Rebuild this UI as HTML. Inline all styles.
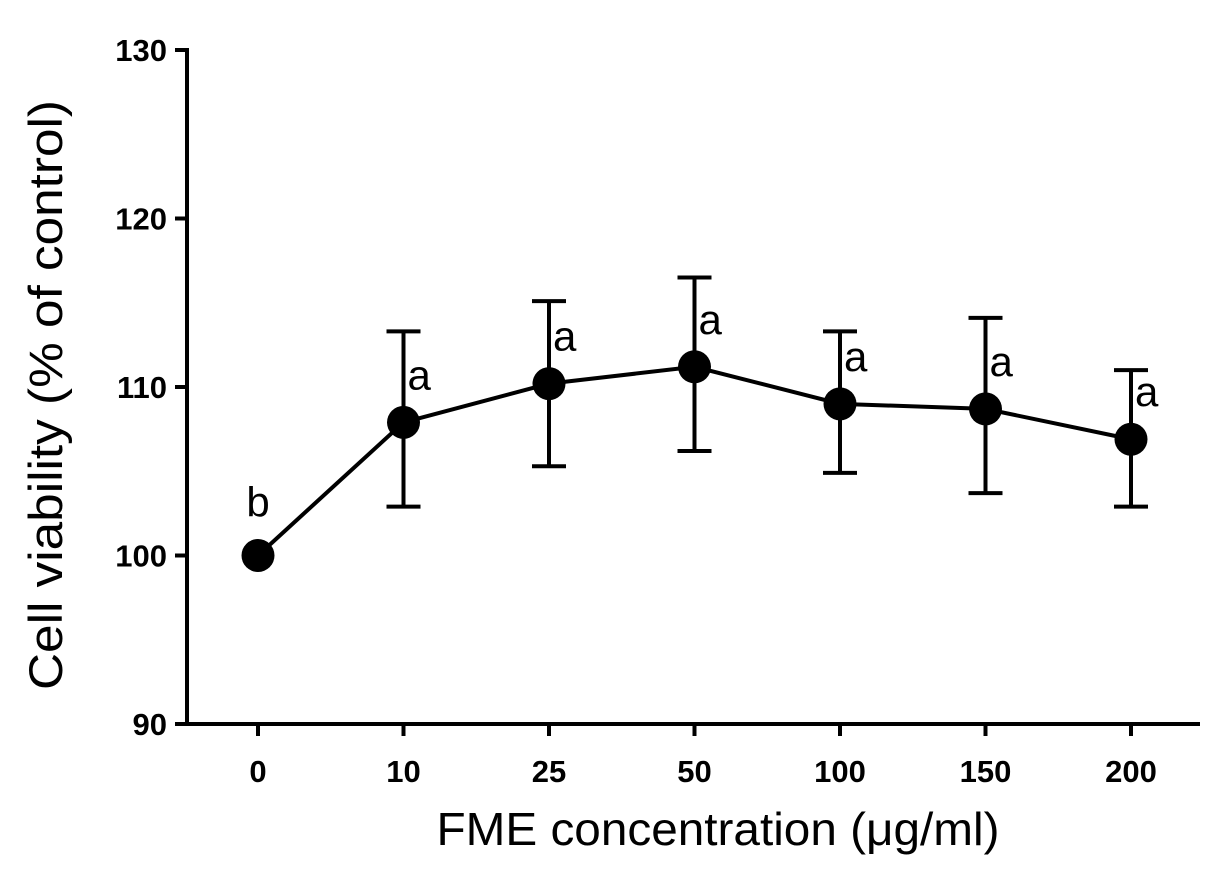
<!DOCTYPE html>
<html><head><meta charset="utf-8"><style>
html,body{margin:0;padding:0;background:#fff}
svg{display:block;font-family:"Liberation Sans",Arial,sans-serif}
</style></head><body>
<svg id="chart" width="1228" height="883" viewBox="0 0 1228 883" xmlns="http://www.w3.org/2000/svg">
<g id="axes"></g><g id="series"></g>
<text transform="translate(62,395) rotate(-90)" text-anchor="middle" font-size="47" textLength="590" lengthAdjust="spacingAndGlyphs" fill="#000">Cell viability (% of control)</text>
<text x="718" y="845" text-anchor="middle" font-size="46" textLength="563" lengthAdjust="spacingAndGlyphs" fill="#000">FME concentration (μg/ml)</text>
</svg>
<script>
const categories = ["0","10","25","50","100","150","200"];
const means = [100, 107.9, 110.2, 111.2, 109.0, 108.7, 106.9];
const errUpper = [100, 113.3, 115.1, 116.5, 113.3, 114.1, 111.0];
const errLower = [100, 102.9, 105.3, 106.2, 104.9, 103.7, 102.9];
const sigLetters = ["b","a","a","a","a","a","a"];
const yTicks = [90, 100, 110, 120, 130];

const NS = "http://www.w3.org/2000/svg";
const yMin = 90, yMax = 130, yTop = 50, yBot = 724;
const xLeft = 187, xRight = 1200, x0 = 258, xStep = 145.5;
function ys(v){ return yBot - (v - yMin) / (yMax - yMin) * (yBot - yTop); }
function xs(i){ return x0 + i * xStep; }
function mk(tag, attrs, parent){ const e = document.createElementNS(NS, tag); for (const k in attrs) e.setAttribute(k, attrs[k]); parent.appendChild(e); return e; }
const axes = document.getElementById('axes'), series = document.getElementById('series');

let yl = mk('line', {x1:xLeft, y1:yTop-2, x2:xLeft, y2:yBot+2, stroke:'#000','stroke-width':4}, axes);


let xl = mk('line', {x1:xLeft-2, y1:yBot, x2:xRight, y2:yBot, stroke:'#000','stroke-width':4}, axes);



yTicks.forEach(t => {
  const y = ys(t);
  const tk = mk('line', {x1:xLeft-12, y1:y, x2:xLeft, y2:y, stroke:'#000','stroke-width':4}, axes);
  
  
  const tx = mk('text', {x:xLeft-20, y:y+11, 'text-anchor':'end','font-size':31,'font-weight':'bold'}, axes);
  tx.textContent = t;
  
  
});
categories.forEach((c, i) => {
  const x = xs(i);
  const tk = mk('line', {x1:x, y1:yBot, x2:x, y2:yBot+12, stroke:'#000','stroke-width':4}, axes);
  
  
  const tx = mk('text', {x:x, y:782, 'text-anchor':'middle','font-size':31,'font-weight':'bold'}, axes);
  tx.textContent = c;
  
  
});

const pts = means.map((m, i) => xs(i) + ',' + ys(m)).join(' ');
const line = mk('polyline', {points:pts, fill:'none', stroke:'#000','stroke-width':4}, series);



means.forEach((m, i) => {
  const x = xs(i);
  if (errUpper[i] !== errLower[i]) {
    const eb = mk('path', {d:`M${x-17},${ys(errUpper[i])}H${x+17}M${x},${ys(errUpper[i])}V${ys(errLower[i])}M${x-17},${ys(errLower[i])}H${x+17}`, stroke:'#000','stroke-width':4, fill:'none'}, series);
    
    
  }
  const p = mk('circle', {cx:x, cy:ys(m), r:16.5, fill:'#000'}, series);
  
  
  const lt = mk('text', {'font-size':42, fill:'#000'}, series);
  if (i === 0) { lt.setAttribute('x', x); lt.setAttribute('y', ys(m) - 39); lt.setAttribute('text-anchor', 'middle'); }
  else { lt.setAttribute('x', x + 4); lt.setAttribute('y', ys(m) - 33); }
  lt.textContent = sigLetters[i];
  
  
});
</script>
</body></html>
